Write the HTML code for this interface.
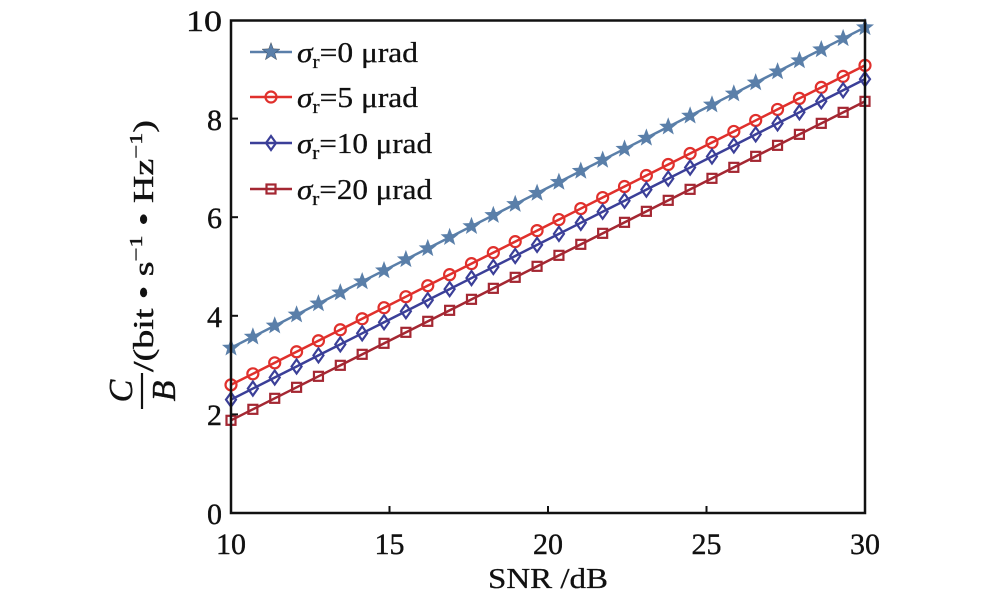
<!DOCTYPE html>
<html><head><meta charset="utf-8"><style>
body{margin:0;background:#fff;}
svg{display:block;font-family:"Liberation Serif",serif;}
</style></head><body>
<svg id="s" width="1000" height="599" viewBox="0 0 1000 599" xmlns="http://www.w3.org/2000/svg">
<rect x="0" y="0" width="1000" height="599" fill="#fff"/>
<g id="series"></g>
<rect x="231" y="20.5" width="634" height="492.5" fill="none" stroke="#111" stroke-width="2.5"/>
<g stroke="#111" stroke-width="2">
<line x1="389.5" y1="513" x2="389.5" y2="506"/><line x1="548" y1="513" x2="548" y2="506"/><line x1="706.5" y1="513" x2="706.5" y2="506"/>
<line x1="231" y1="414.4" x2="238" y2="414.4"/><line x1="231" y1="315.8" x2="238" y2="315.8"/><line x1="231" y1="217.2" x2="238" y2="217.2"/><line x1="231" y1="118.6" x2="238" y2="118.6"/>
</g>
<g font-size="30" fill="#111" text-anchor="end" stroke="#111" stroke-width="0.4">
<text x="222" y="524">0</text><text x="222" y="425">2</text><text x="222" y="327">4</text><text x="222" y="228">6</text><text x="222" y="130">8</text><text x="222" y="31" textLength="36" lengthAdjust="spacingAndGlyphs">10</text>
</g>
<g font-size="30" fill="#111" text-anchor="middle" stroke="#111" stroke-width="0.4">
<text x="231" y="554">10</text><text x="389.5" y="554">15</text><text x="548" y="554">20</text><text x="706.5" y="554">25</text><text x="865" y="554">30</text>
</g>
<text x="488" y="588" font-size="29" fill="#111" stroke="#111" stroke-width="0.3" textLength="120" lengthAdjust="spacingAndGlyphs">SNR /dB</text>
<g transform="translate(142,391) rotate(-90)" fill="#111" stroke="#111" stroke-width="0.4">
<text x="0" y="-10" text-anchor="middle" font-style="italic" font-size="34">C</text>
<line x1="-18" y1="0" x2="18" y2="0" stroke="#111" stroke-width="2.2"/>
<text x="0" y="33" text-anchor="middle" font-style="italic" font-size="34">B</text>
<text x="19" y="11" font-size="28" textLength="252" lengthAdjust="spacingAndGlyphs">/(bit • s<tspan dy="-11" font-size="18">−1</tspan><tspan dy="11"> • Hz</tspan><tspan dy="-11" font-size="18">−1</tspan><tspan dy="11">)</tspan></text>
</g>
<g id="legend" font-size="28" fill="#111" stroke="#111" stroke-width="0.3"></g>
</svg>
<script>
var S=document.getElementById('series'),L=document.getElementById('legend'),ns='http://www.w3.org/2000/svg';
function el(t,a,p){var e=document.createElementNS(ns,t);for(var k in a)e.setAttribute(k,a[k]);p.appendChild(e);return e;}
function star(x,y,r){var p=[];for(var i=0;i<10;i++){var a=-Math.PI/2+i*Math.PI/5,rr=i%2?r*0.42:r;p.push((x+rr*Math.cos(a)).toFixed(1)+','+(y+rr*Math.sin(a)).toFixed(1));}return p.join(' ');}
function marker(k,x,y,c,g){
 if(k==0)el('polygon',{points:star(x,y,9.5),fill:c},g);
 else if(k==1)el('circle',{cx:x,cy:y,r:5.5,fill:'none',stroke:c,'stroke-width':2.2},g);
 else if(k==2)el('polygon',{points:(x)+','+(y-7)+' '+(x+5)+','+y+' '+x+','+(y+7)+' '+(x-5)+','+y,fill:'none',stroke:c,'stroke-width':2.2},g);
 else el('rect',{x:x-4.5,y:y-4.5,width:9,height:9,fill:'none',stroke:c,'stroke-width':2.2},g);
}
var D=[[3.35,9.85,'#5a7fa9'],[2.6,9.08,'#e0302c'],[2.3,8.8,'#3b3f98'],[1.88,8.35,'#a42732']];
function X(v){return 231+(v-10)*31.7;}function Y(v){return 513-v*49.3;}
D.forEach(function(d,k){var g=el('g',{},S),pts=[];var n=29;
 for(var i=0;i<=n;i++){var s=10+20*i/n,v=d[0]+(d[1]-d[0])*i/n;pts.push([X(s),Y(v)]);}
 el('polyline',{points:pts.map(function(p){return p.join(',')}).join(' '),fill:'none',stroke:d[2],'stroke-width':2.5},g);
 pts.forEach(function(p){marker(k,p[0],p[1],d[2],g);});
});
var labs=['0','5','10','20'],ly=[52,97,143,189],tl=[121,121,135,135];
labs.forEach(function(l,k){var y=ly[k];var g=el('g',{},L);
 el('line',{x1:250,y1:y,x2:292,y2:y,stroke:D[k][2],'stroke-width':2.5},g);marker(k,271,y,D[k][2],g);
 var t=el('text',{x:297,y:y+10,textLength:tl[k],lengthAdjust:'spacingAndGlyphs'},g);
 t.innerHTML='<tspan font-style="italic">σ</tspan><tspan dy="6" font-size="19">r</tspan><tspan dy="-6">='+l+' μrad</tspan>';
});
</script>
</body></html>
